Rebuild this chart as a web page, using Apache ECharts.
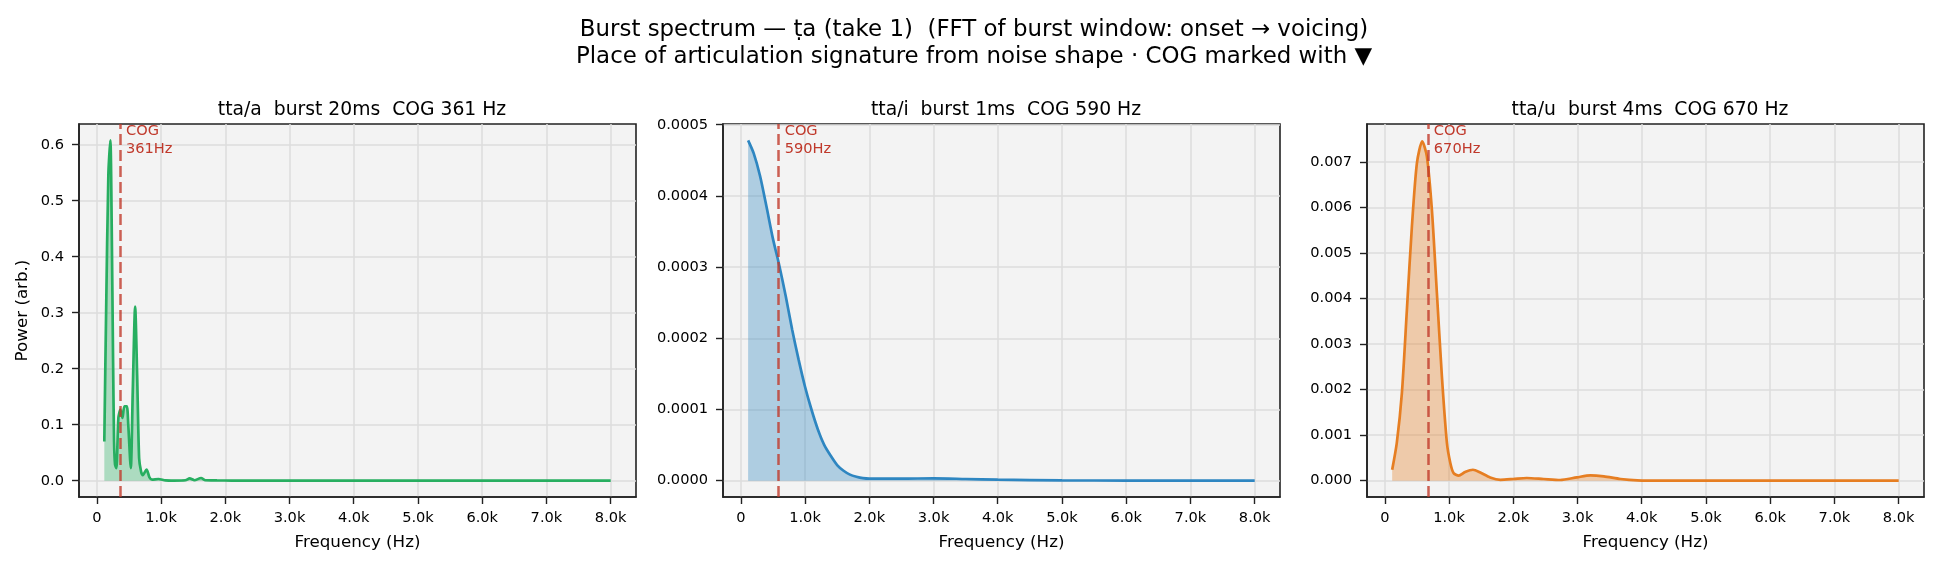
<!DOCTYPE html>
<html>
<head>
<meta charset="utf-8">
<title>Burst spectrum</title>
<script src="https://cdn.jsdelivr.net/npm/echarts@6/dist/echarts.min.js"></script>
<style>
  html, body { margin: 0; padding: 0; background: #fff; }
  #chart { width: 1938px; height: 569px; }
</style>
</head>
<body>
<div id="chart"></div>
<script>
// 频谱数据：频率 (Hz) 和功率 (arb.)
const freqA = [117, 145, 180, 211, 232, 253, 269, 284, 305, 336, 368, 399, 430, 467, 490, 529, 560, 597, 628, 659, 690, 717, 775, 820, 860, 960, 1070, 1200, 1380, 1446, 1520, 1623, 1690, 1870, 2100, 2500, 3000, 8000];
const powerA = [0.070, 0.300, 0.546, 0.608, 0.457, 0.219, 0.070, 0.029, 0.0226, 0.112, 0.127, 0.112, 0.133, 0.133, 0.100, 0.0226, 0.160, 0.311, 0.189, 0.040, 0.016, 0.010, 0.020, 0.006, 0.002, 0.003, 0.0006, 0.0003, 0.0008, 0.0042, 0.0008, 0.0048, 0.0008, 0.0005, 0.0003, 0.0001, 0, 0];

const freqI = [114, 200, 300, 400, 500, 600, 700, 800, 900, 1000, 1100, 1200, 1300, 1400, 1500, 1600, 1700, 1800, 1900, 2000, 2500, 3000, 3500, 4000, 5000, 6000, 8000];
const powerI = [0.000478, 0.000460, 0.000428, 0.000385, 0.000340, 0.000302, 0.000259, 0.000212, 0.000170, 0.000132, 0.000100, 0.000072, 0.000050, 0.000035, 0.000022, 0.000014, 0.0000085, 0.0000055, 0.0000035, 0.0000028, 0.0000028, 0.0000034, 0.0000024, 0.0000014, 0.0000005, 0.0000001, 0];

const freqU = [115, 187, 266, 344, 422, 500, 583, 655, 733, 811, 889, 967, 1020, 1070, 1150, 1250, 1373, 1486, 1640, 1800, 2000, 2210, 2470, 2730, 2990, 3200, 3410, 3670, 3930, 4350, 8000];
const powerU = [0.00024, 0.00083, 0.00192, 0.00375, 0.00558, 0.00697, 0.00745, 0.00712, 0.00595, 0.00412, 0.00229, 0.00083, 0.00039, 0.00017, 0.00011, 0.00019, 0.00024, 0.00018, 0.00007, 0.00002, 0.000037, 0.000059, 0.000037, 0.000015, 0.000073, 0.000117, 0.000095, 0.000037, 0.000007, 0, 0];

const cogHz = [361, 590, 670];
const panelTitles = ['tta/a  burst 20ms  COG 361 Hz', 'tta/i  burst 1ms  COG 590 Hz', 'tta/u  burst 4ms  COG 670 Hz'];
const xTicks = [0, 1000, 2000, 3000, 4000, 5000, 6000, 7000, 8000];
const yTicksA = [0, 0.1, 0.2, 0.3, 0.4, 0.5, 0.6];
const yTicksI = [0, 0.0001, 0.0002, 0.0003, 0.0004, 0.0005];
const yTicksU = [0, 0.001, 0.002, 0.003, 0.004, 0.005, 0.006, 0.007];

const FONT = 'DejaVu Sans';
const panels = [
  { freq: freqA, power: powerA, yTicks: yTicksA, dec: 1, yMin: -0.0291, yMax: 0.637, left: 79, color: '#27ae60', fill: 'rgba(39,174,96,0.35)' },
  { freq: freqI, power: powerI, yTicks: yTicksI, dec: 4, yMin: -0.0000229, yMax: 0.000501, left: 723, color: '#2e86c1', fill: 'rgba(46,134,193,0.35)' },
  { freq: freqU, power: powerU, yTicks: yTicksU, dec: 3, yMin: -0.000358, yMax: 0.00783, left: 1367, color: '#e67e22', fill: 'rgba(230,126,34,0.35)' }
];

const chart = echarts.init(document.getElementById('chart'));

const titles = [{
  text: 'Burst spectrum — ṭa (take 1)  (FFT of burst window: onset → voicing)\nPlace of articulation signature from noise shape · COG marked with ▼',
  left: 969,
  top: 11,
  textAlign: 'center',
  textStyle: { fontFamily: FONT, fontSize: 22.9, fontWeight: 'normal', color: '#000', lineHeight: 27.5 }
}];
panels.forEach((p, i) => {
  titles.push({
    text: panelTitles[i],
    left: p.left + 278,
    top: 94,
    textAlign: 'center',
    textStyle: { fontFamily: FONT, fontSize: 18.75, fontWeight: 'normal', color: '#000', lineHeight: 22 }
  });
});

const option = {
  animation: false,
  backgroundColor: '#fff',
  title: titles,
  grid: panels.map(p => ({
    left: p.left, top: 124, width: 557, height: 373,
    show: true, backgroundColor: '#f3f3f3', borderColor: '#222', borderWidth: 1.6
  })),
  xAxis: panels.map((p, i) => ({
    type: 'value', gridIndex: i, min: -277, max: 8394,
    name: 'Frequency (Hz)', nameLocation: 'middle', nameGap: 37,
    nameTextStyle: { fontFamily: FONT, fontSize: 16.7, color: '#000' },
    axisLine: { show: true, onZero: false, lineStyle: { color: '#222', width: 1.6 } },
    axisTick: { show: true, length: 7, customValues: xTicks, lineStyle: { color: '#222', width: 1.4 } },
    axisLabel: {
      customValues: xTicks, margin: 14, fontFamily: FONT, fontSize: 14.6, color: '#000',
      formatter: v => v === 0 ? '0' : (v / 1000).toFixed(1) + 'k'
    },
    splitLine: { show: true, lineStyle: { color: '#dddddd', width: 1.5 } }
  })),
  yAxis: panels.map((p, i) => ({
    type: 'value', gridIndex: i, min: p.yMin, max: p.yMax,
    name: i === 0 ? 'Power (arb.)' : '', nameLocation: 'middle', nameGap: 48, nameRotate: 90,
    nameTextStyle: { fontFamily: FONT, fontSize: 16.7, color: '#000' },
    axisLine: { show: true, onZero: false, lineStyle: { color: '#222', width: 1.6 } },
    axisTick: { show: true, length: 7, customValues: p.yTicks, lineStyle: { color: '#222', width: 1.4 } },
    axisLabel: {
      customValues: p.yTicks, margin: 15, fontFamily: FONT, fontSize: 14.6, color: '#000',
      formatter: v => v.toFixed(p.dec)
    },
    splitLine: { show: true, lineStyle: { color: '#dddddd', width: 1.5 } }
  })),
  series: panels.map((p, i) => ({
    type: 'line', xAxisIndex: i, yAxisIndex: i,
    data: p.freq.map((f, k) => [f, p.power[k]]),
    showSymbol: false, symbol: 'none', smooth: 0.25,
    lineStyle: { color: p.color, width: 2.7 },
    areaStyle: { color: p.fill, opacity: 1, origin: 0 },
    markLine: {
      silent: true, symbol: ['none', 'none'],
      label: { show: false },
      lineStyle: { color: 'rgba(192,57,43,0.8)', width: 2.5, type: [11, 5] },
      data: [{ xAxis: cogHz[i] }]
    },
    markPoint: {
      silent: true, symbolSize: 0,
      label: {
        show: true, position: [6, -1], color: '#c0392b', fontFamily: FONT, fontSize: 14.6, lineHeight: 17.3,
        formatter: 'COG\n' + cogHz[i] + 'Hz'
      },
      data: [{ coord: [cogHz[i], p.yMax] }]
    }
  }))
};

chart.setOption(option);
</script>
</body>
</html>
